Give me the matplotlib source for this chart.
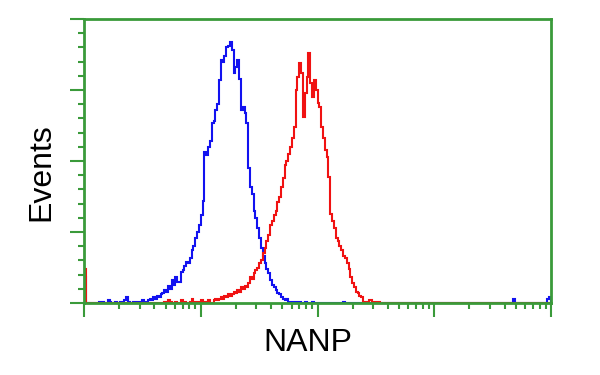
import numpy as np
import matplotlib
matplotlib.use("Agg")
import matplotlib.pyplot as plt
from matplotlib.ticker import LogLocator, MultipleLocator, NullFormatter

# histogram counts per channel (256 channels over 4 decades)
n_channels = 256
decades = 4

blue_counts = [18, 0, 0, 0, 0, 0, 0, 0, 1, 0,
               1, 0, 0, 2, 1, 0, 0, 1, 0, 0,
               1, 0, 2, 4, 1, 0, 0, 1, 0, 1,
               1, 0, 2, 1, 1, 2, 3, 2, 4, 3,
               5, 4, 6, 7, 9, 8, 12, 10, 16, 13,
               18, 15, 15, 22, 23, 26, 29, 28, 32, 37,
               40, 46, 50, 55, 62, 72, 106, 104, 110, 114,
               127, 128, 136, 140, 157, 171, 170, 174, 180, 181,
               184, 178, 162, 166, 171, 158, 136, 138, 134, 127,
               95, 82, 77, 65, 60, 53, 46, 39, 33, 28,
               24, 21, 16, 13, 11, 9, 7, 6, 4, 3,
               2, 3, 1, 1, 1, 0, 1, 0, 1, 0,
               0, 1, 0, 0, 0, 1]
blue_extra_ch = [142, 235, 254, 255]
blue_extra_n = [1, 3, 3, 4]

red_counts = [24, 0, 0, 0, 0, 0, 0, 0, 0, 0,
              0, 0, 0, 0, 0, 0, 0, 0, 0, 0,
              0, 0, 0, 0, 0, 0, 0, 0, 0, 0,
              0, 0, 0, 0, 0, 0, 0, 0, 0, 0,
              0, 0, 0, 0, 1, 0, 2, 1, 0, 0,
              1, 0, 0, 2, 0, 1, 0, 0, 1, 3,
              1, 0, 1, 0, 2, 1, 0, 1, 2, 0,
              0, 2, 3, 2, 3, 4, 3, 5, 4, 6,
              5, 6, 8, 7, 9, 8, 11, 10, 12, 11,
              14, 18, 17, 21, 23, 25, 28, 30, 35, 39,
              44, 48, 55, 58, 62, 65, 71, 75, 82, 88,
              97, 100, 105, 110, 116, 124, 150, 159, 169, 162,
              131, 148, 159, 176, 155, 145, 157, 150, 141, 138,
              124, 116, 108, 103, 89, 63, 58, 53, 46, 44,
              40, 37, 33, 32, 28, 24, 18, 14, 11, 8,
              7, 5, 4, 1, 0, 1, 2, 2, 0, 1,
              1, 1, 0]

green = "#3a9a3a"


def full_hist(counts, extra_ch=(), extra_n=()):
    h = np.zeros(n_channels)
    h[:len(counts)] = counts
    for c, n in zip(extra_ch, extra_n):
        h[c] = n
    return h


edges = 10 ** (np.arange(n_channels + 1) * decades / n_channels)
blue = full_hist(blue_counts, blue_extra_ch, blue_extra_n)
red = full_hist(red_counts)

fig = plt.figure(figsize=(6, 3.75), dpi=100)
ax = fig.add_axes([84 / 600, 72 / 375, 467 / 600, 284 / 375])

ax.stairs(blue, edges, color="#1212f0", lw=1.5)
ax.stairs(red, edges, color="#f01212", lw=1.5)

ax.set_xscale("log")
ax.set_xlim(1, 10 ** decades)
ax.set_ylim(0, 200)

for s in ax.spines.values():
    s.set_color(green)
    s.set_linewidth(2)
    s.set_zorder(3)

ax.xaxis.set_major_locator(LogLocator(base=10, numticks=10))
ax.xaxis.set_minor_locator(LogLocator(base=10, subs=np.arange(2, 10), numticks=20))
ax.xaxis.set_major_formatter(NullFormatter())
ax.xaxis.set_minor_formatter(NullFormatter())
ax.yaxis.set_major_locator(MultipleLocator(50))
ax.yaxis.set_minor_locator(MultipleLocator(10))
ax.yaxis.set_major_formatter(NullFormatter())

ax.tick_params(which="major", direction="out", length=10, width=1.5, color=green)
ax.tick_params(which="minor", direction="out", length=4.5, width=1.5, color=green)
ax.tick_params(top=False, right=False, which="both")

fig.text(41 / 600, 1 - 172 / 375, "Events", rotation=90, ha="center", va="center",
         fontsize=23, family="Liberation Sans")
fig.text(308 / 600, 1 - 343 / 375, "NANP", ha="center", va="center",
         fontsize=23, family="Liberation Sans")

fig.savefig("out.png", dpi=100)
